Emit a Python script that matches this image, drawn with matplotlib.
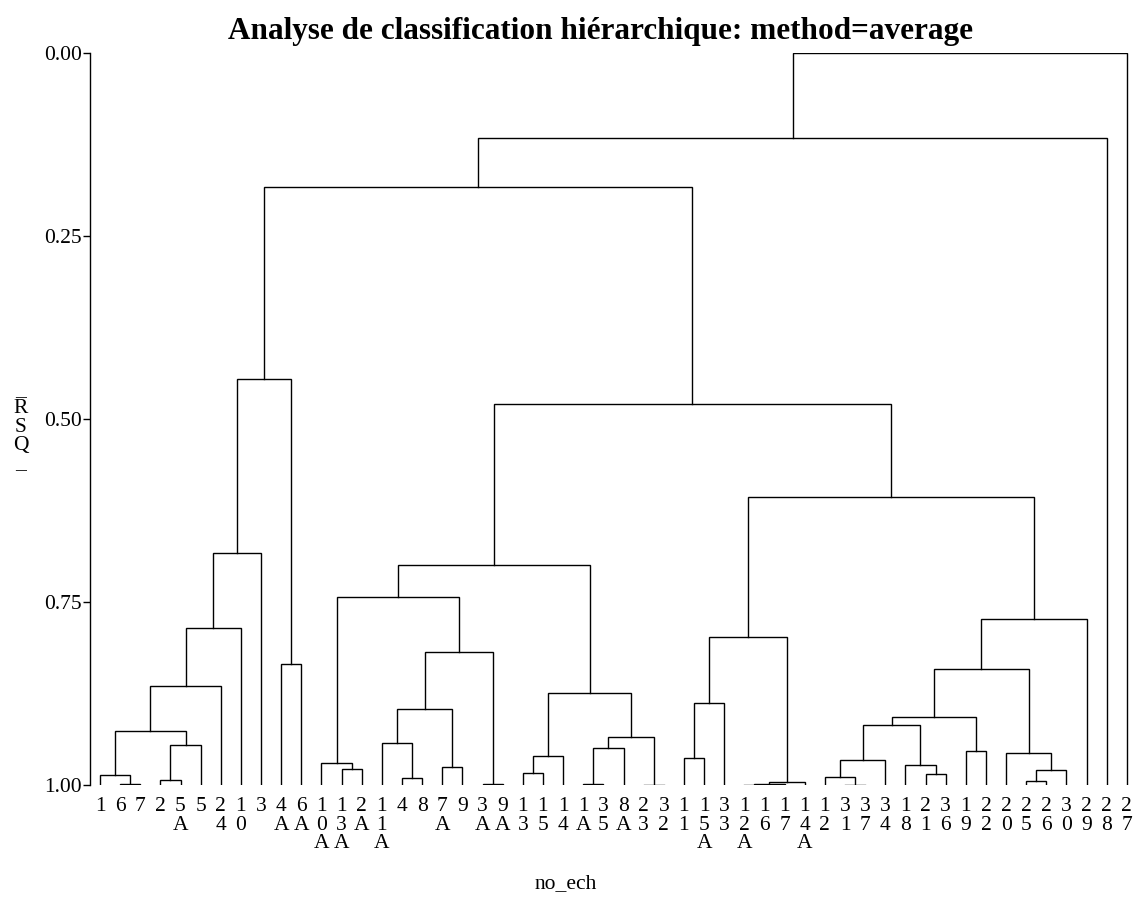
import matplotlib
matplotlib.use("Agg")
import matplotlib.pyplot as plt

# feuilles dans l'ordre du dendrogramme
leaf_labels = ["1", "6", "7", "2", "5A", "5", "24", "10", "3", "4A", "6A",
               "10A", "13A", "2A", "11A", "4", "8", "7A", "9", "3A", "9A",
               "13", "15", "14", "1A", "35", "8A", "23", "32",
               "11", "15A", "33", "12A", "16", "17", "14A",
               "12", "31", "37", "34", "18", "21", "36", "19", "22",
               "20", "25", "26", "30", "29", "28", "27"]

# fusions : (gauche, droite) -> chaine = feuille, entier = fusion precedente
merge_pairs = [("6", "7"), ("1", 0), ("2", "5A"), (2, "5"), (1, 3), (4, "24"),
               (5, "10"), (6, "3"), ("4A", "6A"), (7, 8),
               ("13A", "2A"), ("10A", 10), ("4", "8"), ("11A", 12), ("7A", "9"),
               (13, 14), ("3A", "9A"), (15, 16), (11, 17),
               ("13", "15"), (19, "14"), ("1A", "35"), (21, "8A"), ("23", "32"),
               (22, 23), (20, 24), (18, 25),
               ("11", "15A"), (27, "33"), ("12A", "16"), (29, "17"), (30, "14A"),
               (28, 31), ("31", "37"), ("12", 33), (34, "34"), ("21", "36"),
               ("18", 36), (35, 37), ("19", "22"), (38, 39), ("25", "26"),
               (41, "30"), ("20", 42), (40, 43), (44, "29"), (32, 45),
               (26, 46), (9, 47), (48, "28"), (49, "27")]
merge_rsq = [0.999, 0.987, 0.993, 0.946, 0.926, 0.865, 0.785, 0.683, 0.835, 0.446,
             0.978, 0.970, 0.991, 0.942, 0.975, 0.896, 0.999, 0.819, 0.743,
             0.983, 0.961, 0.998, 0.950, 0.9995, 0.935, 0.874, 0.699,
             0.963, 0.888, 0.9998, 0.9993, 0.9955, 0.798, 0.9995, 0.9886, 0.966,
             0.985, 0.973, 0.918, 0.954, 0.907, 0.994, 0.980, 0.957, 0.842,
             0.773, 0.607, 0.479, 0.183, 0.116, 0.0]

plt.rcParams['font.family'] = ['Liberation Serif', 'DejaVu Serif']

fig = plt.figure(figsize=(11.43, 8.97), dpi=100)
ax = fig.add_axes([0.0787, 0.1249, 0.916, 0.816])

pos = {lab: (i, 1.0) for i, lab in enumerate(leaf_labels)}
for k, ((a, b), h) in enumerate(zip(merge_pairs, merge_rsq)):
    xa, ha = pos[a]
    xb, hb = pos[b]
    ax.plot([xa, xa, xb, xb], [ha, h, h, hb], color='black', lw=1.0,
            solid_joinstyle='miter')
    pos[k] = ((xa + xb) / 2, h)

ax.set_xlim(-0.5, len(leaf_labels) - 0.5)
ax.set_ylim(1.0, 0.0)
ax.set_yticks([0, 0.25, 0.5, 0.75, 1.0])
ax.set_yticklabels(["0.00", "0.25", "0.50", "0.75", "1.00"])
ax.set_xticks(range(len(leaf_labels)))
ax.set_xticklabels(["\n".join(lab) for lab in leaf_labels], linespacing=0.95,
                   va='top')
ax.tick_params(axis='x', length=0, pad=9, labelsize=15.5)
ax.tick_params(axis='y', length=5, width=1, labelsize=15.5, pad=1)
for s in ['top', 'right', 'bottom']:
    ax.spines[s].set_visible(False)
ax.spines['left'].set_linewidth(1.0)

fig.text(21 / 1143, 1 - 427 / 897, "_\nR\nS\nQ\n_", ha='center', va='center',
         fontsize=15.5, linespacing=0.95)
fig.text(566 / 1143, 1 - 884 / 897, "no_ech", ha='center', va='center',
         fontsize=15.5)
fig.text(600 / 1143, 1 - 31 / 897,
         "Analyse de classification hiérarchique: method=average",
         ha='center', va='center', fontsize=22.5, fontweight='bold')

fig.savefig("out.png", dpi=100)
